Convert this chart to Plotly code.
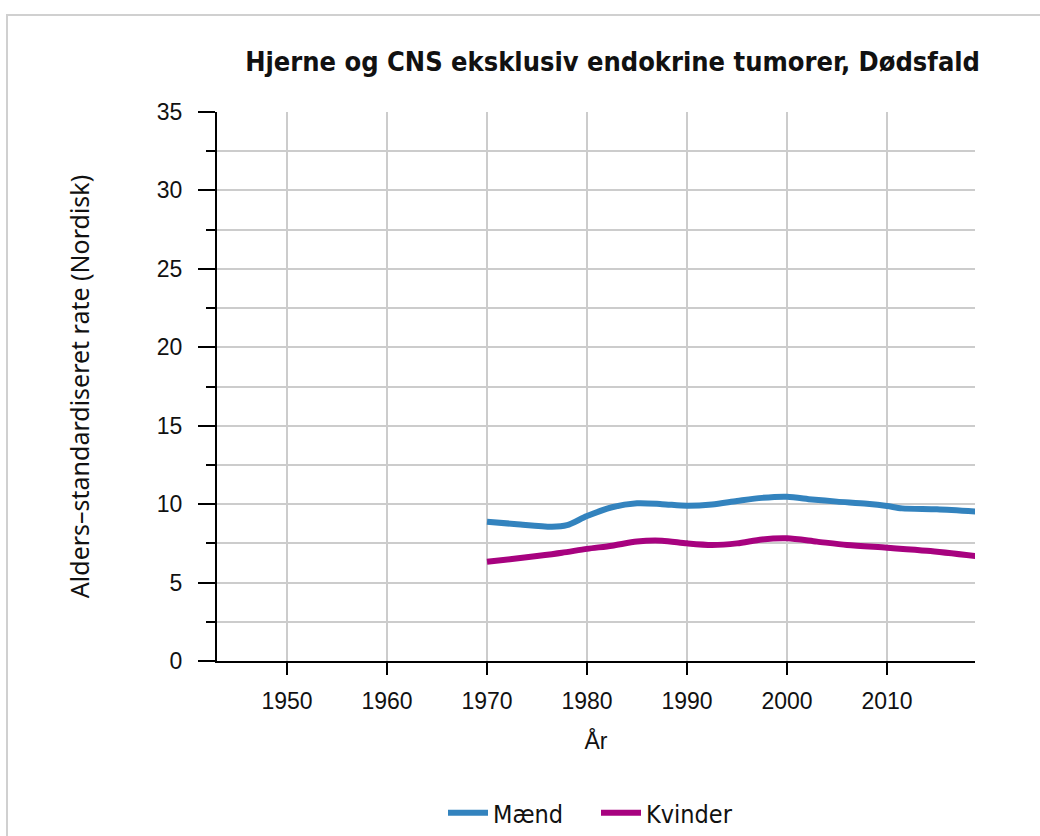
import plotly.graph_objects as go

title_text = "Hjerne og CNS eksklusiv endokrine tumorer, Dødsfald"
x_title = "År"
y_title = "Alders–standardiseret rate (Nordisk)"

men_years = [1970, 1973, 1976.5, 1978, 1980, 1982.5, 1985, 1987.5, 1990, 1992.5, 1995, 1997.5, 2000, 2002.5, 2005, 2008, 2010, 2011.5, 2015, 2019]
men_rates = [8.88, 8.72, 8.56, 8.66, 9.24, 9.8, 10.05, 10.0, 9.9, 9.98, 10.2, 10.4, 10.47, 10.3, 10.16, 10.02, 9.88, 9.73, 9.67, 9.52]

women_years = [1970, 1972.5, 1975, 1977.5, 1980, 1982.5, 1985, 1987.5, 1990, 1992.5, 1995, 1997.5, 2000, 2003, 2006, 2010, 2014, 2019]
women_rates = [6.33, 6.5, 6.69, 6.9, 7.15, 7.35, 7.62, 7.67, 7.5, 7.4, 7.5, 7.75, 7.82, 7.61, 7.4, 7.22, 7.03, 6.68]

series_names = ["Mænd", "Kvinder"]
series_colors = ["#3383BE", "#A7027F"]

x_ticks = [1950, 1960, 1970, 1980, 1990, 2000, 2010]
y_ticks = [0, 5, 10, 15, 20, 25, 30, 35]

fig = go.Figure()
for name, xs, ys, col in [(series_names[0], men_years, men_rates, series_colors[0]),
                          (series_names[1], women_years, women_rates, series_colors[1])]:
    fig.add_trace(go.Scatter(x=xs, y=ys, mode="lines", name=name,
                             line=dict(color=col, width=6, shape="spline", smoothing=0.8)))

W, H = 1040, 836
L, R, T, B = 217, 975, 112, 661
pw, ph = R - L, B - T

def px(x):
    return (x - L) / pw

def py(y):
    return (B - y) / ph

cond = "Liberation Sans Narrow, DejaVu Sans Condensed, Noto Sans"

fig.update_layout(
    width=W, height=H,
    margin=dict(l=L, r=W - R, t=T, b=H - B, autoexpand=False),
    paper_bgcolor="white", plot_bgcolor="white",
    title=dict(text=title_text, x=980 / W, xanchor="right", y=1 - 62 / H, yanchor="middle",
               font=dict(family=cond, size=27, color="#111", weight="bold")),
    font=dict(family="Liberation Sans, Arial", size=23, color="#111"),
    showlegend=True,
    legend=dict(orientation="h", x=0.5, xanchor="center", y=py(813), yanchor="middle",
                font=dict(family=cond, size=25, color="#111"),
                itemwidth=40, entrywidth=98, entrywidthmode="pixels", traceorder="normal"),
    xaxis=dict(range=[1943, 2018.8], tickmode="array", tickvals=x_ticks, ticktext=[str(v) for v in x_ticks],
               showline=True, linecolor="black", linewidth=2, ticks="outside", ticklen=12, tickwidth=2,
               tickcolor="black", showgrid=True, gridcolor="#cccccc", gridwidth=2, zeroline=False,
               ticklabelstandoff=6,
               title=dict(text=x_title, standoff=20, font=dict(size=23))),
    yaxis=dict(range=[0, 35], tickmode="array", tickvals=y_ticks, ticktext=[str(v) for v in y_ticks],
               showline=True, linecolor="black", linewidth=2, ticks="outside", ticklen=17, tickwidth=2,
               tickcolor="black", showgrid=True, gridcolor="#cccccc", gridwidth=2, zeroline=False,
               ticklabelstandoff=11,
               minor=dict(dtick=2.5, tick0=0, ticks="outside", ticklen=9, tickwidth=2, tickcolor="black",
                          showgrid=True, gridcolor="#cccccc", gridwidth=2),
               title=dict(text=y_title, standoff=60, font=dict(family="Noto Sans, Open Sans", size=25))),
    shapes=[dict(type="rect", xref="paper", yref="paper", x0=px(7), x1=px(1060), y0=py(860), y1=py(15),
                 line=dict(color="#d0d0d0", width=2), fillcolor="rgba(0,0,0,0)", layer="below")],
)

fig.write_html("out.html", config={"displayModeBar": False},
               post_script="document.body.style.margin='0';document.body.style.padding='0';")
